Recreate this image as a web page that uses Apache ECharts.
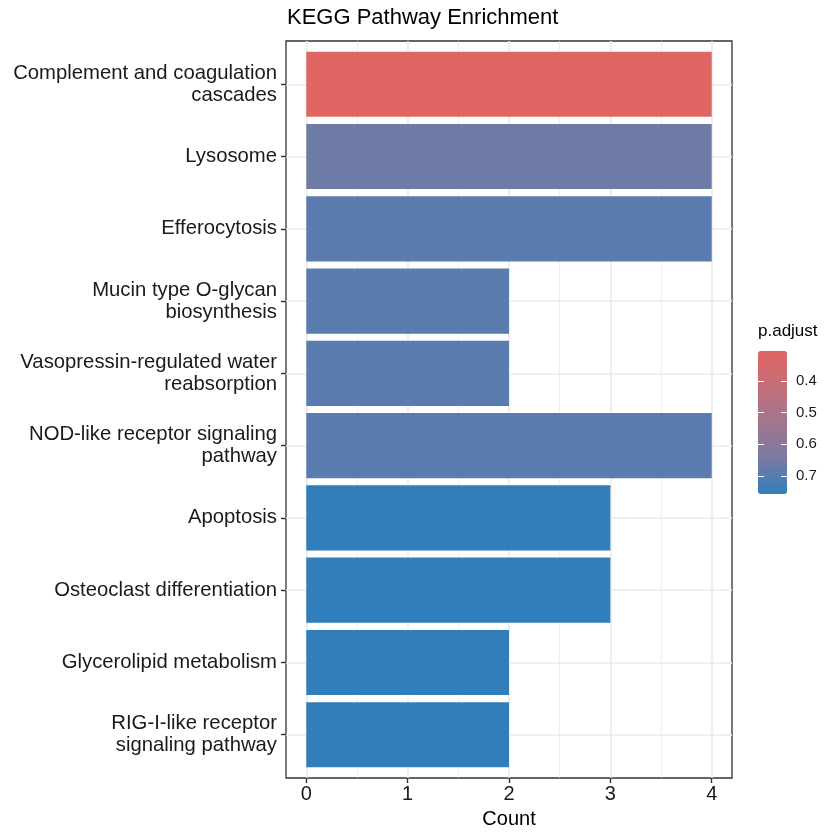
<!DOCTYPE html>
<html lang="en">

<head>
    <meta charset="UTF-8">
    <title>KEGG Pathway Enrichment</title>
    <script src="https://cdn.jsdelivr.net/npm/echarts@6.0.0/dist/echarts.min.js"></script>
    <style>
        html, body {
            margin: 0;
            padding: 0;
            background: #fff;
        }
    </style>
</head>

<body>
    <div id="chart" style="width: 840px; height: 840px;"></div>

    <script>
        // pathways, top to bottom
        const pathways = [
            'Complement and coagulation\ncascades',
            'Lysosome',
            'Efferocytosis',
            'Mucin type O-glycan\nbiosynthesis',
            'Vasopressin-regulated water\nreabsorption',
            'NOD-like receptor signaling\npathway',
            'Apoptosis',
            'Osteoclast differentiation',
            'Glycerolipid metabolism',
            'RIG-I-like receptor\nsignaling pathway'
        ];
        const counts = [4, 4, 4, 2, 2, 4, 3, 3, 2, 2];
        const padjust = [0.305, 0.661, 0.693, 0.693, 0.693, 0.693, 0.757, 0.757, 0.757, 0.757];

        const countTicks = [0, 1, 2, 3, 4];
        const countMinor = [0.5, 1.5, 2.5, 3.5];
        const padjTicks = [0.4, 0.5, 0.6, 0.7];
        const positions = pathways.map((p, i) => i + 1);

        const font = 'Liberation Sans';
        const textColor = '#1a1a1a';

        let chart = echarts.init(document.getElementById('chart'));

        let option = {
            animation: false,
            backgroundColor: '#fff',
            textStyle: { fontFamily: font },
            title: [{
                text: 'KEGG Pathway Enrichment',
                left: 287,
                top: 7,
                padding: 0,
                textStyle: { fontFamily: font, fontSize: 22, fontWeight: 'normal', color: '#000' }
            }, {
                text: 'p.adjust',
                left: 758,
                top: 323,
                padding: 0,
                textStyle: { fontFamily: font, fontSize: 17, fontWeight: 'normal', color: '#000' }
            }],
            grid: [{
                left: 286,
                top: 41,
                width: 446,
                height: 737,
                show: true,
                borderColor: '#333',
                borderWidth: 1.3,
                backgroundColor: 'transparent'
            }, {
                left: 758,
                top: 351,
                width: 29,
                height: 143,
                show: false
            }],
            xAxis: [{
                type: 'value',
                gridIndex: 0,
                min: -0.2,
                max: 4.2,
                name: 'Count',
                nameLocation: 'middle',
                nameGap: 31,
                nameTextStyle: { fontFamily: font, fontSize: 20, color: '#000' },
                axisLine: { show: false, onZero: false },
                axisTick: { show: true, length: 5, customValues: countTicks, lineStyle: { color: '#333', width: 1.4 } },
                axisLabel: { customValues: countTicks, margin: 6, fontFamily: font, fontSize: 20, color: textColor },
                splitLine: { show: true, lineStyle: { color: '#ebebeb', width: 1.6 } }
            }, {
                type: 'value',
                gridIndex: 0,
                min: -0.2,
                max: 4.2,
                axisLine: { show: false, onZero: false },
                axisTick: { show: false, customValues: countMinor },
                axisLabel: { show: false, customValues: countMinor },
                splitLine: { show: true, lineStyle: { color: '#ebebeb', width: 0.8 } }
            }, {
                type: 'value',
                gridIndex: 1,
                show: false
            }],
            yAxis: [{
                type: 'value',
                gridIndex: 0,
                min: 0.4,
                max: 10.6,
                inverse: true,
                axisLine: { show: false, onZero: false },
                axisTick: { show: true, length: 5, customValues: positions, lineStyle: { color: '#333', width: 1.4 } },
                axisLabel: {
                    customValues: positions,
                    margin: 9,
                    fontFamily: font,
                    fontSize: 20.3,
                    lineHeight: 22,
                    color: textColor,
                    formatter: v => pathways[Math.round(v) - 1]
                },
                splitLine: { show: true, lineStyle: { color: '#ebebeb', width: 1.6 } }
            }, {
                type: 'value',
                gridIndex: 1,
                position: 'right',
                min: 0.305,
                max: 0.757,
                inverse: true,
                z: 10,
                axisLine: { show: false, onZero: false },
                axisTick: { show: true, inside: true, length: 6, customValues: padjTicks, lineStyle: { color: '#fff', width: 1 } },
                axisLabel: {
                    customValues: padjTicks,
                    margin: 9,
                    fontFamily: font,
                    fontSize: 15,
                    color: textColor,
                    formatter: v => v.toFixed(1)
                },
                splitLine: { show: false }
            }, {
                type: 'value',
                gridIndex: 1,
                position: 'left',
                min: 0.305,
                max: 0.757,
                inverse: true,
                z: 10,
                axisLine: { show: false, onZero: false },
                axisTick: { show: true, inside: true, length: 6, customValues: padjTicks, lineStyle: { color: '#fff', width: 1 } },
                axisLabel: { show: false, customValues: padjTicks },
                splitLine: { show: false }
            }],
            visualMap: {
                type: 'continuous',
                seriesIndex: 0,
                dimension: 2,
                min: 0.305,
                max: 0.757,
                inverse: true,
                calculable: false,
                left: 758,
                top: 351,
                padding: 0,
                itemWidth: 29,
                itemHeight: 143,
                text: null,
                inRange: {
                    color: ['#e06663', '#c46e79', '#a3758e', '#7a7aa4', '#327eba']
                }
            },
            series: [{
                type: 'custom',
                xAxisIndex: 0,
                yAxisIndex: 0,
                z: 3,
                data: counts.map((c, i) => [c, positions[i], padjust[i]]),
                renderItem: (params, api) => {
                    let start = api.coord([0, api.value(1)]);
                    let end = api.coord([api.value(0), api.value(1)]);
                    let h = api.size([0, 0.9])[1];
                    return {
                        type: 'rect',
                        shape: { x: start[0], y: start[1] - h / 2, width: end[0] - start[0], height: h },
                        style: { fill: api.visual('color') }
                    };
                }
            }]
        };

        chart.setOption(option);
    </script>
</body>

</html>
